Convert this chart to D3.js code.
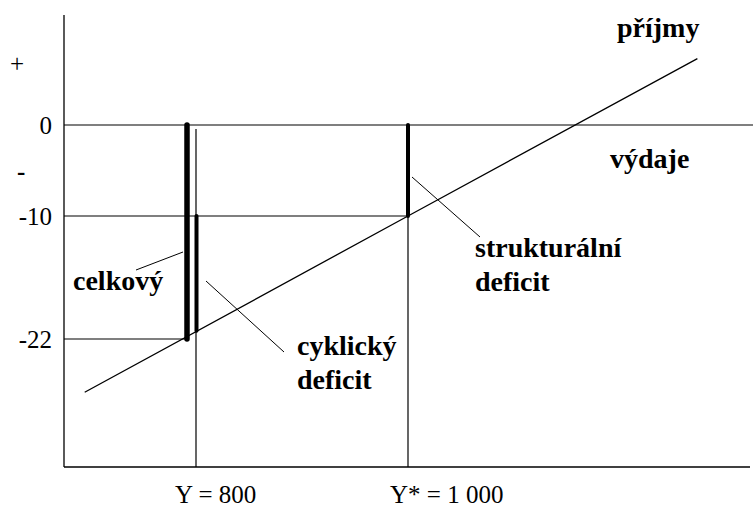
<!DOCTYPE html>
<html>
<head>
<meta charset="utf-8">
<script src="https://cdn.jsdelivr.net/npm/d3@7"></script>
<style>
	body { margin: 0; background: #fff; }
	text { fill: #000; }
	.tick-label { font-family: "Liberation Serif", serif; font-size: 25px; }
	.note { font-family: "Liberation Serif", serif; font-weight: bold; font-size: 28px; }
</style>
</head>
<body>
<div id="graphic-wrapper"></div>
<script>
// budget balance (y) against output Y (x)
const yTicks = [0, -10, -22]
const yTickLabels = ["0", "-10", "-22"]
const xTicks = [800, 1000]
const xTickLabels = ["Y = 800", "Y* = 1 000"]

// revenue-minus-spending line
const revenueY = [695, 1000, 1273]
const revenueB = [-27.2, -10, 7.3]

// deficits: [Y, from, to]
const totalDeficit = [800, 0, -22]
const cyclicalDeficit = [800, -10, -21.2]
const structuralDeficit = [1000, 0, -10]

const WIDTH = 753
const HEIGHT = 507

const xAccessor = d => d[0]
const yAccessor = d => d[1]

function init() {
	const svg = d3.select("#graphic-wrapper")
		.append("svg")
			.attr("width", WIDTH)
			.attr("height", HEIGHT)

	const xScale = d3.scaleLinear()
		.domain(xTicks)
		.range([196, 408])
	const yScale = d3.scaleLinear()
		.domain(yTicks)
		.range([125, 216, 339])

	const axisLeft = 64
	const axisBottom = 467

	const g = svg.append("g")
		.attr("stroke", "#000")
		.attr("fill", "none")

	// axes
	g.append("line")
		.attr("x1", axisLeft).attr("x2", axisLeft)
		.attr("y1", 15).attr("y2", axisBottom)
		.attr("stroke-width", 1.3)
	g.append("line")
		.attr("x1", axisLeft).attr("x2", 750)
		.attr("y1", axisBottom).attr("y2", axisBottom)
		.attr("stroke-width", 1.3)

	// horizontal guide lines at 0, -10, -22
	const guideEnds = [WIDTH, xScale(structuralDeficit[0]), xScale(totalDeficit[0]) - 9]
	yTicks.forEach((t, i) => {
		g.append("line")
			.attr("x1", axisLeft).attr("x2", guideEnds[i])
			.attr("y1", yScale(t)).attr("y2", yScale(t))
			.attr("stroke-width", 1.2)
	})

	// vertical lines at Y = 800 and Y* = 1000
	g.append("line")
		.attr("x1", xScale(800)).attr("x2", xScale(800))
		.attr("y1", 129).attr("y2", axisBottom)
		.attr("stroke-width", 1.2)
	g.append("line")
		.attr("x1", xScale(1000)).attr("x2", xScale(1000))
		.attr("y1", yScale(-10)).attr("y2", axisBottom)
		.attr("stroke-width", 1.2)

	// revenue line
	const revenue = revenueY.map((y, i) => [y, revenueB[i]])
	const lineGenerator = d3.line()
		.x(d => xScale(xAccessor(d)))
		.y(d => yScale(yAccessor(d)))
	g.append("path")
		.datum(revenue)
		.attr("d", lineGenerator)
		.attr("stroke-width", 1.3)

	// deficit bars
	const bar = (d, offset, w) => g.append("line")
		.attr("x1", xScale(d[0]) + offset).attr("x2", xScale(d[0]) + offset)
		.attr("y1", yScale(d[1])).attr("y2", yScale(d[2]))
		.attr("stroke-width", w)
		.attr("stroke-linecap", "round")
	bar(totalDeficit, -9, 5.5)
	bar(cyclicalDeficit, 0.5, 4)
	bar(structuralDeficit, 0, 4)

	// pointer lines
	const pointers = [
		[[136, 270], [183, 252]],
		[[206, 281], [284, 352]],
		[[412, 177], [480, 237]],
	]
	pointers.forEach(p => {
		g.append("line")
			.attr("x1", p[0][0]).attr("y1", p[0][1])
			.attr("x2", p[1][0]).attr("y2", p[1][1])
			.attr("stroke-width", 1)
	})

	// tick labels
	yTicks.forEach((t, i) => {
		svg.append("text")
			.attr("class", "tick-label")
			.attr("x", 52)
			.attr("y", yScale(t) + 8.5)
			.attr("text-anchor", "end")
			.text(yTickLabels[i])
	})
	svg.append("text").attr("class", "tick-label").attr("x", 10).attr("y", 72).text("+")
	svg.append("text").attr("class", "tick-label").attr("x", 17).attr("y", 180)
		.style("font-weight", "bold").text("-")

	xTicks.forEach((t, i) => {
		svg.append("text")
			.attr("class", "tick-label")
			.attr("x", xScale(t) - (i === 0 ? 21 : 18))
			.attr("y", 503)
			.text(xTickLabels[i])
	})

	// annotations
	const notes = [
		{ x: 617, y: 37, lines: ["příjmy"] },
		{ x: 610, y: 168, lines: ["výdaje"] },
		{ x: 73, y: 290, lines: ["celkový"] },
		{ x: 297, y: 355, lines: ["cyklický", "deficit"] },
		{ x: 475, y: 257, lines: ["strukturální", "deficit"] },
	]
	notes.forEach(n => {
		const t = svg.append("text")
			.attr("class", "note")
			.attr("x", n.x)
			.attr("y", n.y)
		n.lines.forEach((l, i) => {
			t.append("tspan")
				.attr("x", n.x)
				.attr("dy", i === 0 ? 0 : 34)
				.text(l)
		})
	})
}

init()
</script>
</body>
</html>
